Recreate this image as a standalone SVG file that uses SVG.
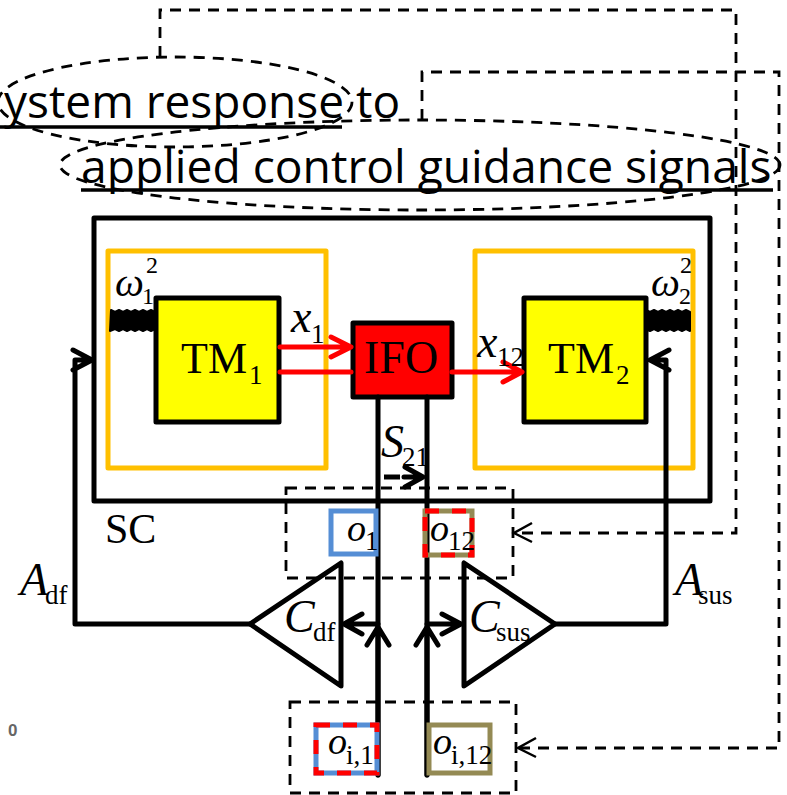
<svg xmlns="http://www.w3.org/2000/svg" width="787" height="795" viewBox="0 0 787 795">
<style>
.title{font-family:"Open Sans","Noto Sans",sans-serif;font-size:46.2px;fill:#000}
.m{font-family:"Liberation Serif",serif;fill:#000;font-size:44px}
.mi{font-style:italic;font-size:46px}
.sub{font-size:27px}
.sup{font-size:24px}
.o{font-style:italic;font-size:38px}
.dash{fill:none;stroke:#000;stroke-width:2.8;stroke-dasharray:11 8}
.k{fill:none;stroke:#000;stroke-width:5;stroke-linejoin:round;stroke-linecap:round}
.r{fill:none;stroke:#f00;stroke-width:5;stroke-linecap:round;stroke-linejoin:round}
.or{fill:none;stroke:#FFC000;stroke-width:5;stroke-linejoin:round}
.box{stroke:#000;stroke-width:5;stroke-linejoin:round}
.rd{fill:none;stroke:#f00;stroke-width:5;stroke-dasharray:14 13}
.spring{fill:#000;stroke:#000;stroke-width:2;stroke-linejoin:round}
</style>
<g id="title">
<text class="title" x="4" y="118" style="font-size:46px">ystem response to</text>
<text class="title" x="81" y="183">applied control guidance signals</text>
<path d="M0 127H342M81 190H773" stroke="#000" stroke-width="3.5" fill="none"/>
</g>
<g id="connectors">
<ellipse class="dash" cx="175" cy="102" rx="177" ry="45"/>
<ellipse class="dash" cx="420" cy="165" rx="360" ry="45"/>
<path class="dash" d="M160 57V10H736V533H515"/>
<path class="dash" d="M422 120V72H779V748H520"/>
<path d="M532 523L514 533L532 542M536 738L518 748L536 757" fill="none" stroke="#000" stroke-width="2.5"/>
</g>
<g id="SC"><rect class="k" x="94" y="218" width="616" height="283"/></g>
<g id="dashed-box-top"><rect class="dash" x="286" y="488" width="227" height="90"/></g>
<g id="dashed-box-bottom"><rect class="dash" x="290" y="702" width="226" height="91"/></g>
<g id="shield-1"><rect class="or" x="108" y="251" width="218" height="217"/></g>
<g id="shield-2"><rect class="or" x="475" y="251" width="218" height="217"/></g>
<g id="spring-1"><path class="spring" d="M111 310l4 2l4 -2l4 2l4 -2l4 2l4 -2l4 2l4 -2l4 2l4 -2l4 2l4 -2V331l-4 -2l-4 2l-4 -2l-4 2l-4 -2l-4 2l-4 -2l-4 2l-4 -2l-4 2l-4 -2l-5 2Z"/></g>
<g id="spring-2"><path class="spring" d="M646 310l4 2l4 -2l4 2l4 -2l4 2l4 -2l4 2l4 -2l4 2l4 -2l4 2V331l-4 -2l-4 2l-4 -2l-4 2l-4 -2l-4 2l-4 -2l-4 2l-4 -2l-4 2l-5 -2Z"/></g>
<g id="TM1"><rect class="box" x="156" y="298" width="123" height="124" fill="#ff0"/></g>
<g id="TM2"><rect class="box" x="524" y="298" width="122" height="124" fill="#ff0"/></g>
<g id="IFO"><rect class="box" x="353" y="323" width="99" height="74" fill="#f00"/></g>
<g id="connectors-solid">
<path class="k" d="M378 397V775M427 397V775"/>
<path class="k" d="M250 624H75V360H90M73 350L92 360L73 370"/>
<path class="k" d="M555 624H666V360H650M669 350L650 360L669 370"/>
<path class="k" d="M378 624H345M362 614L344 624L362 634M378 775V630M367 645L378 627L389 645"/>
<path class="k" d="M427 624H460M442 614L461 624L442 634M427 775V630M416 645L427 627L438 645"/>
<path class="r" d="M280 347H349M331 337L351 347L331 357M280 372H351M452 372H520M503 362L522 372L503 382"/>
<path d="M384 477H400" stroke="#000" stroke-width="5" fill="none"/>
<path class="k" d="M404 477H422M405 467L423 477L405 487"/>
</g>
<g id="Cdf"><path class="k" d="M250 624L341 563V686Z" fill="#fff"/></g>
<g id="Csus"><path class="k" d="M555 624L464 563V686Z" fill="#fff"/></g>
<g id="o1"><rect x="331" y="511" width="45" height="43" fill="none" stroke="#558ED5" stroke-width="5"/></g>
<g id="o12"><rect x="425" y="511" width="47" height="44" fill="none" stroke="#948A54" stroke-width="5"/><rect class="rd" x="425" y="511" width="47" height="44"/></g>
<g id="oi1"><rect x="316" y="725" width="61" height="48" fill="none" stroke="#558ED5" stroke-width="5"/><rect class="rd" x="316" y="725" width="61" height="48"/></g>
<g id="oi12"><rect x="429" y="725" width="61" height="48" fill="none" stroke="#948A54" stroke-width="5"/></g>
<g id="labels">
<text class="m" x="181" y="373">TM<tspan class="sub" x="249" y="384">1</tspan></text>
<text class="m" x="548" y="373">TM<tspan class="sub" x="616" y="384">2</tspan></text>
<text class="m" x="364" y="373" style="font-size:46px">IFO</text>
<text class="m"><tspan class="mi" x="115" y="296" style="font-size:41px">ω</tspan><tspan class="sup" x="142" y="304">1</tspan><tspan class="sup" x="146" y="273">2</tspan></text>
<text class="m"><tspan class="mi" x="651" y="296" style="font-size:41px">ω</tspan><tspan class="sup" x="679" y="304">2</tspan><tspan class="sup" x="680" y="273">2</tspan></text>
<text class="m"><tspan class="mi" x="291" y="332">x</tspan><tspan class="sub" x="311" y="343">1</tspan></text>
<text class="m"><tspan class="mi" x="477" y="357">x</tspan><tspan class="sub" x="497" y="366">12</tspan></text>
<text class="m"><tspan class="mi" x="381" y="457">S</tspan><tspan class="sub" x="402" y="466">21</tspan></text>
<text class="m" x="105" y="543" style="font-size:42px">SC</text>
<text class="m"><tspan class="mi" x="20" y="595">A</tspan><tspan class="sub" x="45" y="604">df</tspan></text>
<text class="m"><tspan class="mi" x="675" y="595">A</tspan><tspan class="sub" x="698" y="604">sus</tspan></text>
<text class="m"><tspan class="mi" x="284" y="632">C</tspan><tspan class="sub" x="313" y="641">df</tspan></text>
<text class="m"><tspan class="mi" x="469" y="632">C</tspan><tspan class="sub" x="496" y="641">sus</tspan></text>
<text class="m"><tspan class="o" x="347" y="541">o</tspan><tspan class="sub" x="365" y="550">1</tspan></text>
<text class="m"><tspan class="o" x="430" y="541">o</tspan><tspan class="sub" x="448" y="550">12</tspan></text>
<text class="m"><tspan class="o" x="328" y="754">o</tspan><tspan class="sub" x="346" y="764">i,1</tspan></text>
<text class="m"><tspan class="o" x="433" y="754">o</tspan><tspan class="sub" x="451" y="764">i,12</tspan></text>
<text x="8" y="736" style="font-family:'Liberation Sans',sans-serif;font-size:17px;font-weight:bold;fill:#666">0</text>
</g>
</svg>
